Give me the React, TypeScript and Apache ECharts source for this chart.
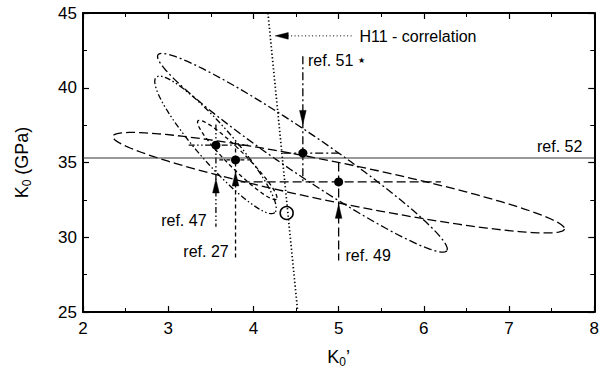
import React, { useEffect, useRef } from 'react';
import * as echarts from 'echarts';

const xTicks = [2, 3, 4, 5, 6, 7, 8];
const yTicks = [25, 30, 35, 40, 45];

// references: 47, 27, 51, 49
const refNames = ['ref. 47', 'ref. 27', 'ref. 51', 'ref. 49'];
const pointX = [3.56, 3.79, 4.58, 5.0];
const pointY = [36.16, 35.17, 35.63, 33.7];
const openPoint = [[4.39, 31.62]];

const ellipseCenter = [[3.555, 36.18], [3.81, 35.17], [4.575, 35.65], [5.0, 33.65]];
const ellipseEnd = [[4.25, 31.65], [4.27, 32.55], [6.27, 29.1], [7.65, 30.55]];
const ellipseRatio = [0.2, 0.16, 0.117, 0.086];

const hBarFrom = [3.24, 3.6, 4.35, 3.85];
const hBarTo = [3.94, 4.0, 5.0, 6.2];
const vBarTop = [37.55, 36.4, 42.1, 35.0];
const vBarBottom = [30.7, 28.45, 33.7, 28.45];
const arrowTipY = [33.9, 34.37, 37.55, 32.2];
const arrowDir = ['up', 'up', 'down', 'up'];
const labelX = [3.45, 3.71, 4.64, 5.08];
const labelY = [31.1, 29.05, 41.8, 28.8];
const labelAlign = ['right', 'right', 'left', 'left'];

const ref52Y = 35.3;
const ref52Label = [7.86, 36.05];
const h11Line = [[4.17, 45], [4.52, 25]];
const h11PointerY = 43.47;
const h11PointerX = [4.36, 5.16];
const h11ArrowTipX = 4.256;
const h11LabelPos = [5.244, 43.45];

const FONT = '"Liberation Sans", Arial, Helvetica, sans-serif';
const DASHES = [
  [6, 2.5, 1.5, 2.5, 1.5, 2.5],
  [4, 3],
  [8, 3, 2, 3],
  [9, 4],
];

function arrowPoints(tip: number[], dir: string) {
  const L = 14, W = 3.3;
  const [tx, ty] = tip;
  if (dir === 'up') return [[tx, ty], [tx - W, ty + L], [tx + W, ty + L]];
  if (dir === 'down') return [[tx, ty], [tx - W, ty - L], [tx + W, ty - L]];
  return [[tx, ty], [tx + L - 1, ty - W], [tx + L - 1, ty + W]];
}

function ellipsePolygon(api: any, i: number) {
  const c = api.coord(ellipseCenter[i]);
  const e = api.coord(ellipseEnd[i]);
  const ux = e[0] - c[0];
  const uy = e[1] - c[1];
  const vx = -uy * ellipseRatio[i];
  const vy = ux * ellipseRatio[i];
  const pts: number[][] = [];
  const n = 120;
  for (let k = 0; k < n; k++) {
    const t = (k / n) * Math.PI * 2;
    pts.push([c[0] + Math.cos(t) * ux + Math.sin(t) * vx, c[1] + Math.cos(t) * uy + Math.sin(t) * vy]);
  }
  return pts;
}

function refRender(i: number) {
  return (params: any, api: any) => {
    const dash = DASHES[i];
    const stroke = { stroke: '#000', lineWidth: 1.3, lineDash: dash, fill: 'none' };
    const h1 = api.coord([hBarFrom[i], pointY[i]]);
    const h2 = api.coord([hBarTo[i], pointY[i]]);
    const v1 = api.coord([pointX[i], vBarTop[i]]);
    const v2 = api.coord([pointX[i], vBarBottom[i]]);
    const tip = api.coord([pointX[i], arrowTipY[i]]);
    const lp = api.coord([labelX[i], labelY[i]]);
    const isStar = i === 2;
    return {
      type: 'group',
      children: [
        { type: 'polygon', shape: { points: ellipsePolygon(api, i) }, style: { ...stroke } },
        { type: 'line', shape: { x1: h1[0], y1: h1[1], x2: h2[0], y2: h2[1] }, style: { ...stroke } },
        { type: 'line', shape: { x1: v1[0], y1: v1[1], x2: v2[0], y2: v2[1] }, style: { ...stroke } },
        { type: 'polygon', shape: { points: arrowPoints(tip, arrowDir[i]) }, style: { fill: '#000', stroke: '#000', lineWidth: 0.5 } },
        {
          type: 'text',
          x: lp[0],
          y: lp[1],
          style: {
            text: isStar ? '{a|' + refNames[i] + '} {s|★}' : refNames[i],
            fill: '#000',
            fontSize: 16,
            fontFamily: FONT,
            align: labelAlign[i],
            verticalAlign: 'middle',
            rich: isStar
              ? { a: { fontSize: 16, fontFamily: FONT, fill: '#000' }, s: { fontSize: 8, fill: '#000', verticalAlign: 'middle' } }
              : undefined,
          },
        },
      ],
    };
  };
}

function miscRender(params: any, api: any) {
  const r1 = api.coord([xTicks[0], ref52Y]);
  const r2 = api.coord([xTicks[xTicks.length - 1], ref52Y]);
  const rl = api.coord(ref52Label);
  const hA = api.coord(h11Line[0]);
  const hB = api.coord(h11Line[1]);
  const p1 = api.coord([h11PointerX[0], h11PointerY]);
  const p2 = api.coord([h11PointerX[1], h11PointerY]);
  const tip = api.coord([h11ArrowTipX, h11PointerY]);
  const hl = api.coord(h11LabelPos);
  return {
    type: 'group',
    children: [
      { type: 'line', shape: { x1: r1[0], y1: r1[1], x2: r2[0], y2: r2[1] }, style: { stroke: '#333', lineWidth: 1 } },
      { type: 'text', x: rl[0], y: rl[1], style: { text: 'ref. 52', fill: '#000', fontSize: 16, fontFamily: FONT, align: 'right', verticalAlign: 'middle' } },
      { type: 'line', shape: { x1: hA[0], y1: hA[1], x2: hB[0], y2: hB[1] }, style: { stroke: '#000', lineWidth: 1.7, lineDash: [1.3, 2.4] } },
      { type: 'line', shape: { x1: p1[0], y1: p1[1], x2: p2[0], y2: p2[1] }, style: { stroke: '#000', lineWidth: 1, lineDash: [1, 2.5] } },
      { type: 'polygon', shape: { points: arrowPoints(tip, 'left') }, style: { fill: '#000', stroke: '#000', lineWidth: 0.5 } },
      { type: 'text', x: hl[0], y: hl[1], style: { text: 'H11 - correlation', fill: '#000', fontSize: 16, fontFamily: FONT, align: 'left', verticalAlign: 'middle' } },
    ],
  };
}

export default function App() {
  const ref = useRef<HTMLDivElement>(null);
  useEffect(() => {
    if (!ref.current) return;
    const chart = echarts.init(ref.current, undefined, { renderer: 'svg' });
    const axisCommon = {
      type: 'value',
      axisLine: { show: true, onZero: false, lineStyle: { color: '#000', width: 2 } },
      axisTick: { show: true, inside: true, length: 6, lineStyle: { color: '#000', width: 1.2 } },
      minorTick: { show: true, splitNumber: 2, length: 4, lineStyle: { color: '#000', width: 1 } },
      splitLine: { show: false },
      minorSplitLine: { show: false },
    };
    const option: any = {
      animation: false,
      backgroundColor: '#fff',
      grid: { left: 83, right: 3, top: 13, bottom: 59, containLabel: false },
      xAxis: [
        {
          ...axisCommon,
          min: xTicks[0],
          max: xTicks[xTicks.length - 1],
          interval: 1,
          position: 'bottom',
          axisLabel: { color: '#000', fontSize: 17, fontFamily: FONT, margin: 8 },
          name: '{a|K}{b|0}{a|\u2019}',
          nameLocation: 'middle',
          nameGap: 34,
          nameTextStyle: {
            rich: {
              a: { fontSize: 18, fontFamily: FONT, color: '#000' },
              b: { fontSize: 12, fontFamily: FONT, color: '#000', padding: [10, 0, 0, 0] },
            },
          },
        },
        {
          ...axisCommon,
          min: xTicks[0],
          max: xTicks[xTicks.length - 1],
          interval: 1,
          position: 'top',
          axisLabel: { show: false },
        },
      ],
      yAxis: [
        {
          ...axisCommon,
          min: yTicks[0],
          max: yTicks[yTicks.length - 1],
          interval: 5,
          position: 'left',
          axisLabel: { color: '#000', fontSize: 17, fontFamily: FONT, margin: 6 },
          name: '{a|K}{b|0}{a| (GPa)}',
          nameLocation: 'middle',
          nameGap: 50,
          nameRotate: 90,
          nameTextStyle: {
            rich: {
              a: { fontSize: 18, fontFamily: FONT, color: '#000' },
              b: { fontSize: 12, fontFamily: FONT, color: '#000', padding: [10, 0, 0, 0] },
            },
          },
        },
        {
          ...axisCommon,
          min: yTicks[0],
          max: yTicks[yTicks.length - 1],
          interval: 5,
          position: 'right',
          axisLabel: { show: false },
        },
      ],
      series: [
        ...refNames.map((_, i) => ({
          type: 'custom',
          coordinateSystem: 'cartesian2d',
          renderItem: refRender(i),
          data: [[pointX[i], pointY[i]]],
          z: 2,
          silent: true,
        })),
        {
          type: 'custom',
          coordinateSystem: 'cartesian2d',
          renderItem: miscRender,
          data: [[h11Line[0][0], h11Line[0][1]]],
          z: 2,
          silent: true,
        },
        {
          type: 'scatter',
          data: pointX.map((x, i) => [x, pointY[i]]),
          symbol: 'circle',
          symbolSize: 9,
          itemStyle: { color: '#000', opacity: 1 },
          z: 5,
          silent: true,
        },
        {
          type: 'scatter',
          data: openPoint,
          symbol: 'circle',
          symbolSize: 13,
          itemStyle: { color: 'rgba(255,255,255,0)', borderColor: '#000', borderWidth: 1.5, opacity: 1 },
          z: 5,
          silent: true,
        },
      ],
    };
    chart.setOption(option);
    return () => chart.dispose();
  }, []);
  return <div ref={ref} style={{ position: 'fixed', left: 0, top: 0, width: 602, height: 373 }} />;
}
